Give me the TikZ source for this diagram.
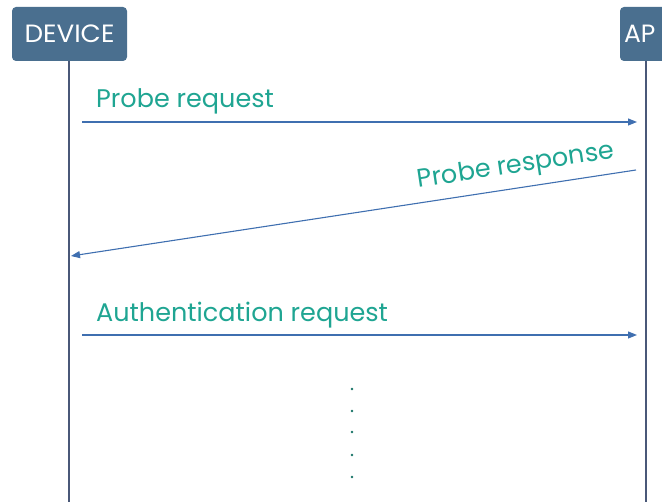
\documentclass[tikz,border=0pt]{standalone}
\usepackage{fontspec}
\setmainfont{Poppins}
\usetikzlibrary{arrows.meta}
\definecolor{boxblue}{HTML}{4A6F8F}
\definecolor{lifeline}{HTML}{4A5878}
\definecolor{msgblue}{HTML}{3F6FB0}
\definecolor{labteal}{HTML}{1FA592}
\tikzset{
  actor/.style={fill=boxblue, rounded corners=4pt, text=white, minimum height=54pt, inner sep=0pt, font=\fontsize{25}{27}\selectfont},
  life/.style={draw=lifeline, line width=1.8pt},
  msg/.style={draw=msgblue, line width=1.1pt, -{Triangle[length=9pt,width=7pt]}},
  lab/.style={text=labteal, font=\fontsize{25.5}{28}\selectfont, inner sep=0pt},
  dotm/.style={circle, fill=labteal!70!black, inner sep=0pt, minimum size=2.6pt}
}
\begin{document}
\begin{tikzpicture}[x=1pt,y=-1pt]
\useasboundingbox (0,0) rectangle (662,502);
\node[actor, minimum width=115pt] (dev) at (69.5,34) {\scalebox{1.05}[1]{DEVICE}};
\node[actor, minimum width=70pt, text width=62pt, align=left] (ap) at (655,34) {AP};
\coordinate (devbot) at (69,502);
\coordinate (apbot) at (646,502);
\draw[life] (dev.south -| devbot) -- (devbot);
\draw[life] (ap.south -| apbot) -- (apbot);
% messages
\coordinate (m1s) at (82,122);
\coordinate (m1e) at (637,122);
\draw[msg] (m1s) -- (m1e);
\node[lab, anchor=base west] (l1) at (96,108) {Probe request};
\coordinate (m2s) at (636,170);
\coordinate (m2e) at (71,256);
\draw[msg] (m2s) -- (m2e);
\node[lab, anchor=base east, rotate=8.6] (l2) at (615,158) {Probe response};
\coordinate (m3s) at (82,335);
\coordinate (m3e) at (637,335);
\draw[msg] (m3s) -- (m3e);
\node[lab, anchor=base west] (l3) at (96,322) {Authentication request};
% dots
\foreach \yy [count=\i] in {389,411,432,455,477} \node[dotm] (d\i) at (352,\yy) {};
\end{tikzpicture}
\end{document}
